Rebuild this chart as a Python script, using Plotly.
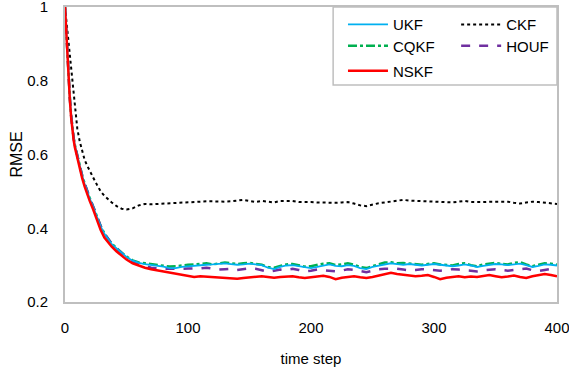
import plotly.graph_objects as go

# time steps at which values were read
steps_early = [0, 1, 2, 3, 4, 5, 6, 7, 8, 10, 12, 14, 16, 18, 20, 23, 26, 29, 32, 35, 38, 42, 46]
steps_late = list(range(50, 401, 5))
steps = steps_early + steps_late

nskf = [1.0, 0.93, 0.86, 0.80, 0.745, 0.70, 0.665, 0.64, 0.62, 0.59, 0.56, 0.535, 0.513, 0.492, 0.475, 0.45, 0.42, 0.395, 0.375, 0.362, 0.35, 0.337, 0.325,
        0.315, 0.305, 0.298, 0.293, 0.289, 0.286, 0.283, 0.28, 0.277, 0.275, 0.271, 0.268, 0.27, 0.269, 0.267, 0.265, 0.266, 0.264, 0.263, 0.265,
        0.267, 0.268, 0.27, 0.268, 0.266, 0.268, 0.269, 0.27, 0.267, 0.265, 0.267, 0.269, 0.271, 0.268, 0.262, 0.266, 0.268, 0.27, 0.267, 0.265,
        0.268, 0.272, 0.275, 0.279, 0.276, 0.274, 0.272, 0.27, 0.271, 0.273, 0.268, 0.262, 0.266, 0.268, 0.27, 0.267, 0.269, 0.268, 0.271, 0.273,
        0.27, 0.267, 0.269, 0.272, 0.268, 0.265, 0.27, 0.274, 0.276, 0.273, 0.27]

ukf = [1.0, 0.93, 0.865, 0.805, 0.75, 0.705, 0.67, 0.645, 0.625, 0.595, 0.567, 0.542, 0.52, 0.5, 0.482, 0.457, 0.43, 0.405, 0.385, 0.37, 0.357, 0.345, 0.333,
       0.322, 0.312, 0.306, 0.303, 0.301, 0.299, 0.296, 0.292, 0.292, 0.295, 0.297, 0.298, 0.299, 0.301, 0.302, 0.303, 0.305, 0.303, 0.301, 0.302,
       0.304, 0.302, 0.3, 0.293, 0.289, 0.295, 0.299, 0.3, 0.297, 0.293, 0.292, 0.295, 0.299, 0.302, 0.298, 0.297, 0.3, 0.298, 0.292, 0.289,
       0.295, 0.299, 0.302, 0.305, 0.303, 0.301, 0.303, 0.301, 0.299, 0.301, 0.303, 0.301, 0.299, 0.297, 0.299, 0.302, 0.299, 0.295, 0.298, 0.301,
       0.303, 0.302, 0.3, 0.302, 0.304, 0.3, 0.295, 0.298, 0.302, 0.301, 0.299]

cqkf = [1.0, 0.93, 0.865, 0.806, 0.751, 0.706, 0.671, 0.646, 0.626, 0.596, 0.568, 0.543, 0.521, 0.501, 0.483, 0.458, 0.431, 0.406, 0.386, 0.371, 0.358, 0.346, 0.334,
        0.323, 0.313, 0.307, 0.305, 0.303, 0.301, 0.298, 0.296, 0.297, 0.3, 0.301, 0.302, 0.304, 0.305, 0.302, 0.304, 0.307, 0.305, 0.303, 0.305,
        0.306, 0.303, 0.301, 0.295, 0.293, 0.298, 0.302, 0.303, 0.299, 0.296, 0.297, 0.301, 0.304, 0.305, 0.3, 0.302, 0.305, 0.301, 0.295, 0.292,
        0.297, 0.302, 0.307, 0.308, 0.305, 0.306, 0.305, 0.304, 0.301, 0.303, 0.305, 0.302, 0.301, 0.299, 0.303, 0.305, 0.3, 0.297, 0.302, 0.305,
        0.306, 0.303, 0.302, 0.306, 0.308, 0.302, 0.297, 0.301, 0.305, 0.304, 0.301]

houf = [1.0, 0.93, 0.864, 0.804, 0.75, 0.705, 0.67, 0.645, 0.625, 0.595, 0.567, 0.542, 0.521, 0.501, 0.483, 0.458, 0.431, 0.406, 0.386, 0.371, 0.358, 0.345, 0.333,
        0.321, 0.31, 0.303, 0.298, 0.293, 0.291, 0.29, 0.29, 0.289, 0.29, 0.291, 0.29, 0.291, 0.293, 0.29, 0.288, 0.289, 0.29, 0.287, 0.289,
        0.291, 0.29, 0.286, 0.282, 0.285, 0.288, 0.287, 0.29, 0.287, 0.283, 0.285, 0.288, 0.286, 0.284, 0.283, 0.285, 0.289, 0.287, 0.284, 0.281,
        0.285, 0.289, 0.29, 0.291, 0.29, 0.288, 0.286, 0.287, 0.289, 0.288, 0.286, 0.285, 0.287, 0.289, 0.288, 0.286, 0.284, 0.283, 0.286, 0.288,
        0.289, 0.287, 0.285, 0.287, 0.29, 0.291, 0.286, 0.284, 0.287, 0.29, 0.286]

ckf = [1.0, 0.965, 0.93, 0.895, 0.86, 0.828, 0.795, 0.76, 0.725, 0.67, 0.635, 0.607, 0.585, 0.57, 0.555, 0.537, 0.518, 0.5, 0.488, 0.478, 0.47, 0.46, 0.453,
       0.451, 0.454, 0.462, 0.466, 0.465, 0.466, 0.468, 0.467, 0.468, 0.47, 0.47, 0.472, 0.474, 0.473, 0.473, 0.472, 0.472, 0.473, 0.475, 0.477,
       0.474, 0.471, 0.474, 0.472, 0.47, 0.474, 0.475, 0.474, 0.471, 0.472, 0.471, 0.47, 0.469, 0.47, 0.469, 0.47, 0.471, 0.467, 0.462, 0.46,
       0.465, 0.468, 0.47, 0.473, 0.476, 0.477, 0.475, 0.474, 0.473, 0.472, 0.473, 0.471, 0.47, 0.47, 0.472, 0.474, 0.471, 0.47, 0.471, 0.472,
       0.472, 0.471, 0.472, 0.469, 0.467, 0.47, 0.472, 0.471, 0.469, 0.467, 0.466]

x_ticks = [0, 100, 200, 300, 400]
y_ticks = [0.2, 0.4, 0.6, 0.8, 1.0]
y_tick_text = ["0.2", "0.4", "0.6", "0.8", "1"]

FONT = "Liberation Sans, Arial"

fig = go.Figure()
fig.add_trace(go.Scatter(x=steps, y=ckf, name="CKF", mode="lines", legend="legend2",
                         line=dict(color="black", width=2, dash="dot")))
fig.add_trace(go.Scatter(x=steps, y=cqkf, name="CQKF", mode="lines", legend="legend3",
                         line=dict(color="#00B050", width=2.5, dash="dashdot")))
fig.add_trace(go.Scatter(x=steps, y=houf, name="HOUF", mode="lines", legend="legend4",
                         line=dict(color="#7030A0", width=2.5, dash="dash")))
fig.add_trace(go.Scatter(x=steps, y=ukf, name="UKF", mode="lines", legend="legend",
                         line=dict(color="#00B0F0", width=1.8)))
fig.add_trace(go.Scatter(x=steps, y=nskf, name="NSKF", mode="lines", legend="legend5",
                         line=dict(color="#FF0000", width=2.5)))

def leg(x, y):
    return dict(x=x, y=y, xanchor="left", yanchor="middle", bgcolor="rgba(0,0,0,0)", borderwidth=0,
                font=dict(family=FONT, size=15, color="black"), itemwidth=40)

col1, col2 = 0.565, 0.795
row1, row2, row3 = 0.94, 0.868, 0.783

fig.update_layout(
    width=569, height=376,
    margin=dict(l=65, r=12, t=7, b=74, autoexpand=False),
    plot_bgcolor="white", paper_bgcolor="white",
    font=dict(family=FONT, size=15, color="black"),
    showlegend=True,
    legend=leg(col1, row1),
    legend2=leg(col2, row1),
    legend3=leg(col1, row2),
    legend4=leg(col2, row2),
    legend5=leg(col1, row3),
    xaxis=dict(range=[0, 400], tickvals=x_ticks, showgrid=False, zeroline=False,
               showline=True, linecolor="#BFBFBF", linewidth=2, mirror=True, automargin=False,
               ticks="", ticklabelstandoff=11, ticklabeloverflow="allow", tickfont=dict(family=FONT, size=15),
               title=dict(text="time step", font=dict(family=FONT, size=15), standoff=18)),
    yaxis=dict(range=[0.2, 1.0], tickvals=y_ticks, ticktext=y_tick_text, showgrid=False, zeroline=False,
               showline=True, linecolor="#BFBFBF", linewidth=2, mirror=True, automargin=False,
               ticks="", ticklabelstandoff=12, ticklabeloverflow="allow", tickfont=dict(family=FONT, size=15),
               title=dict(text="RMSE", font=dict(family=FONT, size=16), standoff=1)),
    shapes=[dict(type="rect", xref="paper", yref="paper", x0=0.545, x1=1.0, y0=0.7356, y1=1.0,
                 line=dict(color="#BFBFBF", width=1.5), fillcolor="rgba(0,0,0,0)", layer="above")],
)

fig.write_html("out.html", config={"displayModeBar": False},
               post_script="document.body.style.margin='0px';")
